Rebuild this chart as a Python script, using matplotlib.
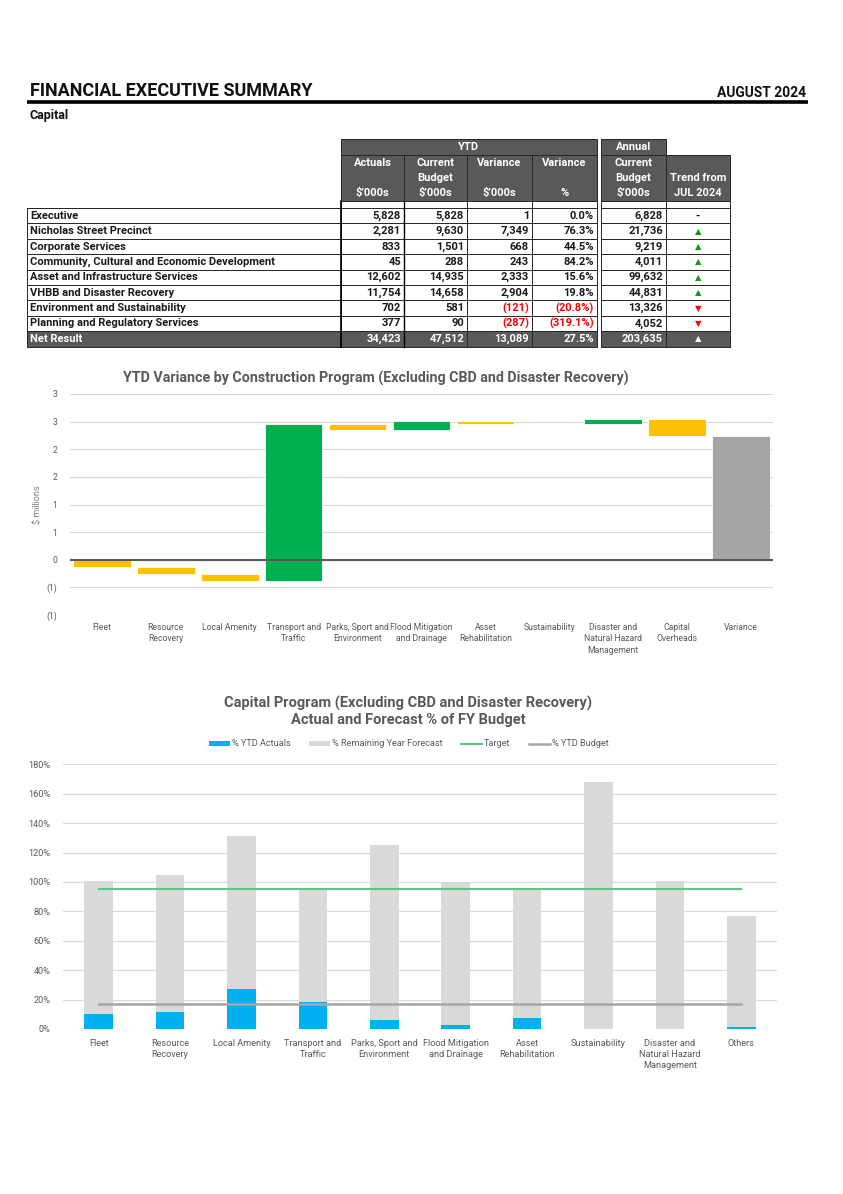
import math
import numpy as np
import matplotlib
matplotlib.use('Agg')
import matplotlib.pyplot as plt
from matplotlib.patches import Rectangle
from matplotlib.ticker import FuncFormatter, MultipleLocator

plt.rcParams['font.family'] = ['Roboto', 'DejaVu Sans']

# ---- table data ($'000s) ----
row_labels = ['Executive', 'Nicholas Street Precinct', 'Corporate Services',
              'Community, Cultural and Economic Development', 'Asset and Infrastructure Services',
              'VHBB and Disaster Recovery', 'Environment and Sustainability',
              'Planning and Regulatory Services']
ytd_actuals = [5828, 2281, 833, 45, 12602, 11754, 702, 377]
ytd_budget = [5828, 9630, 1501, 288, 14935, 14658, 581, 90]
ytd_variance = [1, 7349, 668, 243, 2333, 2904, -121, -287]
ytd_variance_pct = [0.0, 76.3, 44.5, 84.2, 15.6, 19.8, -20.8, -319.1]
annual_budget = [6828, 21736, 9219, 4011, 99632, 44831, 13326, 4052]
trend = ['-', 'up', 'up', 'up', 'up', 'up', 'down', 'down']
net_row = [34423, 47512, 13089, 27.5, 203635, 'up']

# ---- waterfall data ($ millions) ----
wf_labels = ['Fleet', 'Resource\nRecovery', 'Local Amenity', 'Transport and\nTraffic',
             'Parks, Sport and\nEnvironment', 'Flood Mitigation\nand Drainage', 'Asset\nRehabilitation',
             'Sustainability', 'Disaster and\nNatural Hazard\nManagement', 'Capital\nOverheads']
wf_delta = [-0.13, -0.12, -0.14, 2.85, -0.12, 0.17, -0.05, 0.0, 0.09, -0.31]
wf_total_label = 'Variance'

# ---- capital program data (% of FY budget) ----
cp_labels = ['Fleet', 'Resource\nRecovery', 'Local Amenity', 'Transport and\nTraffic',
             'Parks, Sport and\nEnvironment', 'Flood Mitigation\nand Drainage', 'Asset\nRehabilitation',
             'Sustainability', 'Disaster and\nNatural Hazard\nManagement', 'Others']
cp_ytd_actual = [10.4, 11.6, 27.0, 18.6, 6.3, 2.5, 7.2, 0.0, 0.0, 1.3]
cp_total_forecast = [100.4, 104.5, 131.5, 94.7, 125.0, 100.0, 95.0, 168.0, 100.4, 77.0]
cp_target = 95.0
cp_ytd_budget = 16.7

GREY_TXT = '#595959'
DARK = '#595959'
EDGE = '#262626'
W, H = 843, 1194

fig = plt.figure(figsize=(W / 100, H / 100), dpi=100)
page = fig.add_axes([0, 0, 1, 1])
page.set_xlim(0, W)
page.set_ylim(H, 0)
page.axis('off')

# header
page.text(30, 91, 'FINANCIAL EXECUTIVE SUMMARY', fontsize=13, fontweight='bold', va='center', color='#111111')
page.text(806, 93, 'AUGUST 2024', fontsize=10, fontweight='bold', va='center', ha='right', color='#111111')
page.plot([27, 808], [101.5, 101.5], color='black', lw=2.6, solid_capstyle='butt')
page.text(30, 115, 'Capital', fontsize=9, fontweight='bold', va='center', color='#111111')

# table geometry
num_cols = [(341, 404), (404, 467), (467, 532), (532, 597), (601, 666), (666, 730)]
FS = 8


def cell(x0, x1, y0, y1, fc='white', lw=0.7):
    page.add_patch(Rectangle((x0, y0), x1 - x0, y1 - y0, facecolor=fc, edgecolor=EDGE, lw=lw))


# header rows
cell(341, 597, 139, 155, DARK)
cell(601, 666, 139, 155, DARK)
page.text(469, 147.5, 'YTD', color='white', fontsize=FS, fontweight='bold', ha='center', va='center')
page.text(633.5, 147.5, 'Annual', color='white', fontsize=FS, fontweight='bold', ha='center', va='center')
head_lines = [['Actuals', '', '$’000s'], ['Current', 'Budget', '$’000s'], ['Variance', '', '$’000s'],
              ['Variance', '', '%'], ['Current', 'Budget', '$’000s'], ['', 'Trend from', 'JUL 2024']]
for (x0, x1), lines in zip(num_cols, head_lines):
    cell(x0, x1, 155, 201, DARK)
    for k, t in enumerate(lines):
        page.text((x0 + x1) / 2, 163 + 15 * k, t, color='white', fontsize=FS, fontweight='bold',
                  ha='center', va='center')

# spacer row
for x0, x1 in num_cols:
    cell(x0, x1, 201, 208)
page.plot([27, 341], [208, 208], color=EDGE, lw=0.7)


def fmt_num(v):
    return f'{v:,}' if v >= 0 else f'({-v:,})'


def fmt_pct(v):
    return f'{v:.1f}%' if v >= 0 else f'({-v:.1f}%)'


def trend_cell(xc, yc, t, up_col, down_col):
    if t == 'up':
        page.text(xc, yc, '▲', color=up_col, fontsize=6, ha='center', va='center', family=['DejaVu Sans'])
    elif t == 'down':
        page.text(xc, yc, '▼', color=down_col, fontsize=6, ha='center', va='center', family=['DejaVu Sans'])
    else:
        page.text(xc, yc, t, color='black', fontsize=FS, fontweight='bold', ha='center', va='center')


RH = 15.4
rows = list(zip(row_labels, ytd_actuals, ytd_budget, ytd_variance, ytd_variance_pct, annual_budget, trend))
for i, (lab, a, b, v, p, ann, tr) in enumerate(rows):
    y0 = 208 + i * RH
    y1 = y0 + RH
    yc = (y0 + y1) / 2
    cell(27, 341, y0, y1)
    page.text(30, yc, lab, fontsize=FS, fontweight='bold', va='center', color='#1a1a1a')
    vals = [fmt_num(a), fmt_num(b), fmt_num(v), fmt_pct(p), fmt_num(ann)]
    reds = [False, False, v < 0, p < 0, False]
    for (x0, x1), t, r in zip(num_cols[:5], vals, reds):
        cell(x0, x1, y0, y1)
        page.text(x1 - 3, yc, t, fontsize=FS, fontweight='bold', va='center', ha='right',
                  color='#ff0000' if r else '#1a1a1a')
    cell(666, 730, y0, y1)
    trend_cell(698, yc, tr, '#109a10', '#ff0000')

# net result row
y0 = 208 + len(rows) * RH
y1 = y0 + RH
yc = (y0 + y1) / 2
cell(27, 341, y0, y1, DARK)
page.text(30, yc, 'Net Result', fontsize=FS, fontweight='bold', va='center', color='white')
net_txt = [fmt_num(net_row[0]), fmt_num(net_row[1]), fmt_num(net_row[2]), fmt_pct(net_row[3]), fmt_num(net_row[4])]
for (x0, x1), t in zip(num_cols[:5], net_txt):
    cell(x0, x1, y0, y1, DARK)
    page.text(x1 - 3, yc, t, fontsize=FS, fontweight='bold', va='center', ha='right', color='white')
cell(666, 730, y0, y1, DARK)
trend_cell(698, yc, net_row[5], 'white', 'white')
# heavier separators
page.plot([341, 341], [201, y1], color='black', lw=1.2)
page.plot([404, 404], [201, y1], color='black', lw=1.0)


def fig_rect(x0, y_top, x1, y_bot):
    return [x0 / W, 1 - y_bot / H, (x1 - x0) / W, (y_bot - y_top) / H]


# ---------------- waterfall chart ----------------
ax1 = fig.add_axes(fig_rect(70, 394, 773, 615))
start = np.concatenate([[0], np.cumsum(wf_delta)[:-1]])
end = np.cumsum(wf_delta)
total = end[-1]
xs = np.arange(len(wf_delta))
bottoms = np.minimum(start, end)
heights = np.abs(np.array(wf_delta))
colors = ['#00b050' if d > 0 else '#ffc000' for d in wf_delta]
ax1.bar(xs, heights, bottom=bottoms, width=0.9, color=colors, edgecolor='white', lw=0.6, zorder=3)
ax1.bar([len(wf_delta)], [total], width=0.9, color='#a5a5a5', edgecolor='white', lw=0.6, zorder=3)
ax1.set_xlim(-0.5, len(wf_delta) + 0.5)
ax1.set_ylim(-1, 3)
ax1.yaxis.set_major_locator(MultipleLocator(0.5))


def excel_round(x, pos):
    n = int(math.floor(abs(x) + 0.5 + 1e-9))
    if x < -1e-9:
        return f'({n})'
    return f'{n}'


ax1.yaxis.set_major_formatter(FuncFormatter(excel_round))
ax1.grid(axis='y', color='#d9d9d9', lw=0.8, zorder=0)
ax1.axhline(0, color='#595959', lw=1.5, zorder=4)
for s in ax1.spines.values():
    s.set_visible(False)
ax1.set_xticks(list(xs) + [len(wf_delta)])
ax1.set_xticklabels(wf_labels + [wf_total_label], fontsize=6.2, color=GREY_TXT, linespacing=1.3)
ax1.tick_params(axis='both', length=0, labelsize=6.2, colors=GREY_TXT)
ax1.tick_params(axis='x', pad=6)
ax1.tick_params(axis='y', pad=9)
ax1.set_ylabel('$ millions', fontsize=6.5, color='#7f7f7f', labelpad=3)
page.text(376, 378, 'YTD Variance by Construction Program (Excluding CBD and Disaster Recovery)',
          fontsize=10.3, fontweight='bold', color=GREY_TXT, ha='center', va='center')

# ---------------- capital program chart ----------------
ax2 = fig.add_axes(fig_rect(63, 764.3, 777, 1029))
x2 = np.arange(len(cp_labels))
remaining = np.array(cp_total_forecast) - np.array(cp_ytd_actual)
ax2.bar(x2, cp_ytd_actual, width=0.4, color='#00b0f0', zorder=3, label='% YTD Actuals')
ax2.bar(x2, remaining, bottom=cp_ytd_actual, width=0.4, color='#d9d9d9', zorder=3,
        label='% Remaining Year Forecast')
ax2.plot(x2, [cp_target] * len(x2), color='#5cc785', lw=1.5, zorder=4, label='Target')
ax2.plot(x2, [cp_ytd_budget] * len(x2), color='#a6a6a6', lw=1.8, zorder=4, label='% YTD Budget')
ax2.set_xlim(-0.5, len(cp_labels) - 0.5)
ax2.set_ylim(0, 180)
ax2.yaxis.set_major_locator(MultipleLocator(20))
ax2.yaxis.set_major_formatter(FuncFormatter(lambda v, p: f'{v:.0f}%'))
ax2.grid(axis='y', color='#d9d9d9', lw=0.8, zorder=0)
for s in ax2.spines.values():
    s.set_visible(False)
ax2.set_xticks(x2)
ax2.set_xticklabels(cp_labels, fontsize=6.6, color=GREY_TXT, linespacing=1.3)
ax2.tick_params(axis='both', length=0, labelsize=6.6, colors=GREY_TXT)
ax2.tick_params(axis='x', pad=7)
ax2.tick_params(axis='y', pad=9)
page.text(408, 703, 'Capital Program (Excluding CBD and Disaster Recovery)', fontsize=10.5,
          fontweight='bold', color=GREY_TXT, ha='center', va='center')
page.text(408, 720, 'Actual and Forecast % of FY Budget', fontsize=10.5,
          fontweight='bold', color=GREY_TXT, ha='center', va='center')
handles, labels = ax2.get_legend_handles_labels()
order = [2, 3, 0, 1]
handles = [handles[i] for i in order]
labels = [labels[i] for i in order]
fig.legend(handles, labels, loc='center', bbox_to_anchor=(409 / W, 1 - 744 / H), ncol=4, frameon=False,
           fontsize=6.6, labelcolor=GREY_TXT, handlelength=2.3, handleheight=0.5, handletextpad=0.2,
           columnspacing=2.0)

fig.savefig('out.png', dpi=100)
